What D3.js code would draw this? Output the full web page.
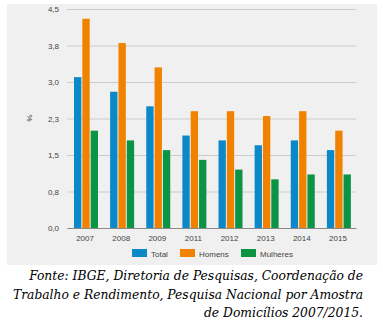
<!DOCTYPE html>
<html>
<head>
<meta charset="utf-8">
<script src="https://cdn.jsdelivr.net/npm/d3@7"></script>
<style>
  body { margin: 0; background: #ffffff; }
  svg text { font-family: "Liberation Sans", Arial, sans-serif; }
</style>
</head>
<body>
<div id="vis"></div>
<script>
// taxa por ano, em %
const YEARS = ["2007", "2008", "2009", "2011", "2012", "2013", "2014", "2015"];
const SERIES = ["Total", "Homens", "Mulheres"];
const TOTAL = [3.1, 2.8, 2.5, 1.9, 1.8, 1.7, 1.8, 1.6];
const HOMENS = [4.3, 3.8, 3.3, 2.4, 2.4, 2.3, 2.4, 2.0];
const MULHERES = [2.0, 1.8, 1.6, 1.4, 1.2, 1.0, 1.1, 1.1];
const Y_TICKS = [0, 0.75, 1.5, 2.25, 3.0, 3.75, 4.5];
const Y_TICK_LABELS = ["0,0", "0,8", "1,5", "2,3", "3,0", "3,8", "4,5"];
const SOURCE_LINES = [
  "Fonte: IBGE, Diretoria de Pesquisas, Coordenação de",
  "Trabalho e Rendimento, Pesquisa Nacional por Amostra",
  "de Domicílios 2007/2015."
];

const COLORS = {Total: "#0a88c8", Homens: "#f08200", Mulheres: "#0b9444"};

const FRAME_WIDTH = 383;
const FRAME_HEIGHT = 322;
const PLOT = {left: 67, right: 356, top: 9, bottom: 228};

const FRAME = d3.select("#vis")
  .append("svg")
    .attr("width", FRAME_WIDTH)
    .attr("height", FRAME_HEIGHT);

// gray panel behind the chart
FRAME.append("rect")
  .attr("x", 7).attr("y", 4)
  .attr("width", 370).attr("height", 261)
  .attr("fill", "#f0f0f0");

const rows = YEARS.map((y, i) => ({
  year: y,
  values: [
    {key: "Total", value: TOTAL[i]},
    {key: "Homens", value: HOMENS[i]},
    {key: "Mulheres", value: MULHERES[i]}
  ]
}));

const X_SCALE = d3.scaleBand()
  .domain(YEARS)
  .range([PLOT.left, PLOT.right]);

const X_INNER = d3.scaleBand()
  .domain(SERIES)
  .range([7, 31])
  .paddingInner(0.12);

const Y_SCALE = d3.scaleLinear()
  .domain([0, 4.5])
  .range([PLOT.bottom, PLOT.top]);

// gridlines + y labels
const yAxis = FRAME.append("g")
  .attr("transform", `translate(${PLOT.left},0)`)
  .call(d3.axisLeft(Y_SCALE)
    .tickValues(Y_TICKS)
    .tickSize(-(PLOT.right - PLOT.left))
    .tickPadding(8)
    .tickFormat((d, i) => Y_TICK_LABELS[i]));
yAxis.select(".domain").remove();
yAxis.selectAll(".tick line").attr("stroke", "#cccccc");
yAxis.selectAll(".tick text")
  .attr("fill", "#444")
  .attr("font-size", "8px");

FRAME.append("text")
  .attr("transform", "translate(27,118) rotate(90)")
  .attr("text-anchor", "middle")
  .attr("font-size", "8px")
  .attr("fill", "#444")
  .text("%");

// bars
FRAME.append("g")
  .selectAll("g")
  .data(rows)
  .enter()
  .append("g")
    .attr("transform", (d) => `translate(${X_SCALE(d.year)},0)`)
  .selectAll("rect")
  .data((d) => d.values)
  .enter()
  .append("rect")
    .attr("x", (d) => X_INNER(d.key))
    .attr("y", (d) => Y_SCALE(d.value))
    .attr("width", X_INNER.bandwidth())
    .attr("height", (d) => Y_SCALE(0) - Y_SCALE(d.value))
    .attr("fill", (d) => COLORS[d.key]);

// x axis
const xAxis = FRAME.append("g")
  .attr("transform", `translate(0,${PLOT.bottom})`)
  .call(d3.axisBottom(X_SCALE).tickSize(0).tickPadding(7));
xAxis.select(".domain").attr("stroke", "#8a8a8a");
xAxis.selectAll(".tick text")
  .attr("fill", "#444")
  .attr("font-size", "8px");

// legend
const legendX = [132, 180, 241];
const legend = FRAME.append("g")
  .selectAll("g")
  .data(SERIES)
  .enter()
  .append("g")
    .attr("transform", (d, i) => `translate(${legendX[i]},249)`);
legend.append("rect")
  .attr("width", 15).attr("height", 8)
  .attr("fill", (d) => COLORS[d]);
legend.append("text")
  .attr("x", 19).attr("y", 7.5)
  .attr("font-size", "8px")
  .attr("fill", "#444")
  .text((d) => d);

// source note under the panel
FRAME.append("g")
  .selectAll("text")
  .data(SOURCE_LINES)
  .enter()
  .append("text")
    .attr("x", 363)
    .attr("y", (d, i) => 280 + i * 18.5)
    .attr("text-anchor", "end")
    .style("font-family", "'DejaVu Serif Condensed', 'DejaVu Serif', serif")
    .style("font-stretch", "condensed")
    .style("font-style", "italic")
    .attr("font-size", "13.7px")
    .attr("fill", "#000")
    .text((d) => d);
</script>
</body>
</html>
